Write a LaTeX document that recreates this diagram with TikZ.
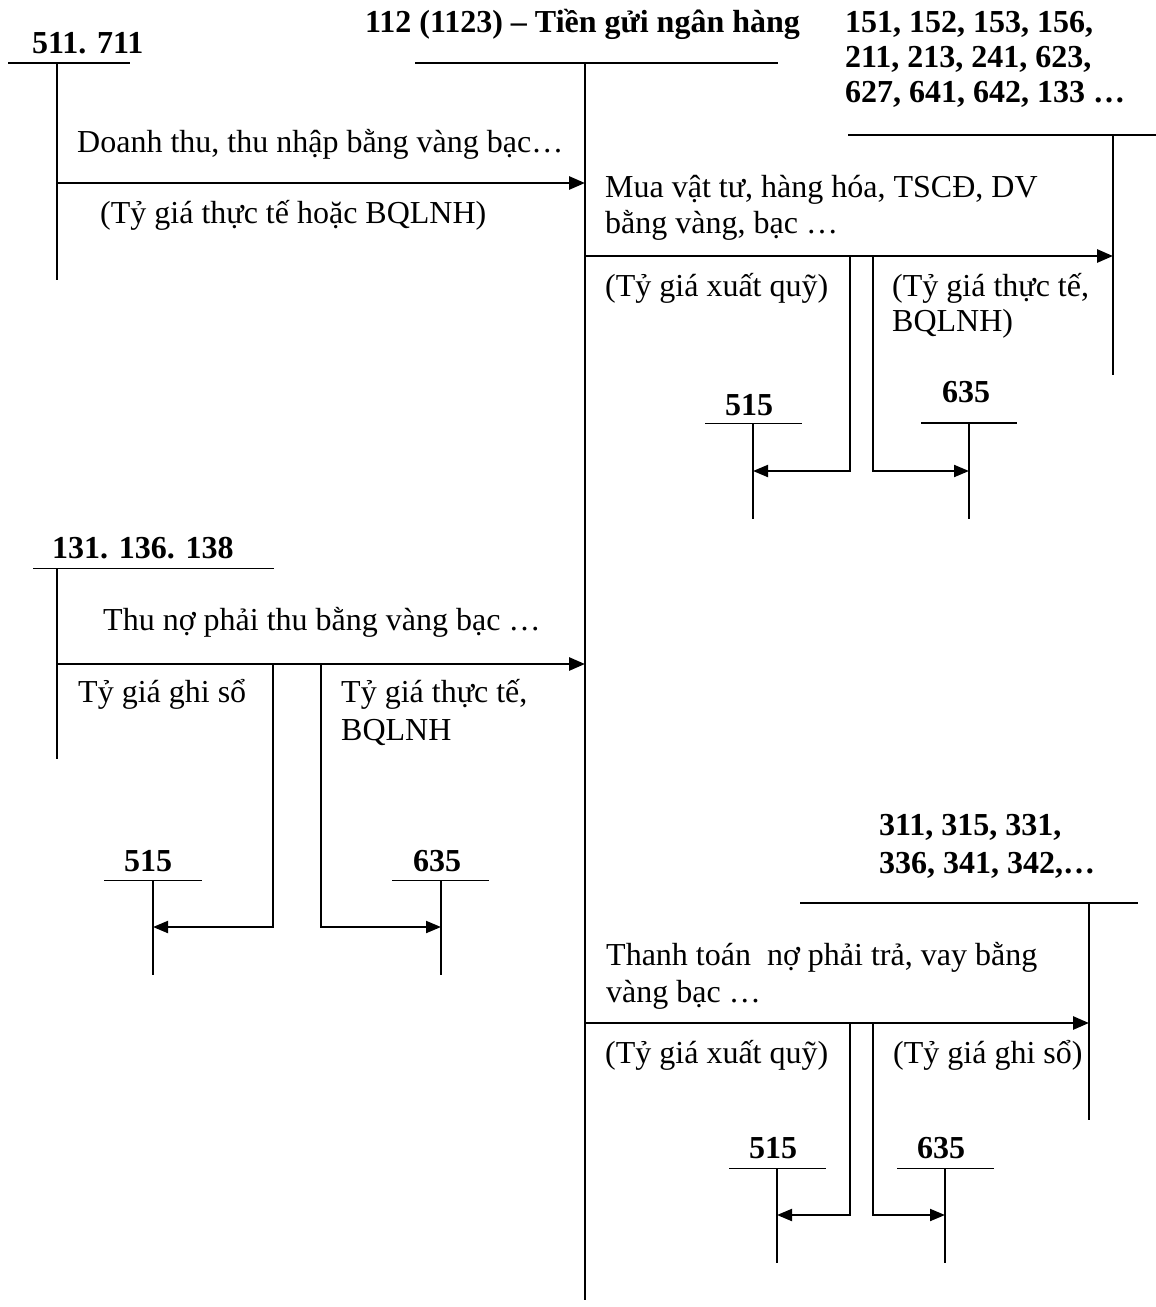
\documentclass[tikz,border=0pt]{standalone}
\usepackage{fontspec}
\setmainfont{Liberation Serif}
\usetikzlibrary{positioning,arrows.meta,calc}

\begin{document}
\begin{tikzpicture}[
    x=1pt, y=-1pt,
    every node/.style={inner sep=0pt, anchor=base west, align=left,
                       font=\fontsize{32}{36}\selectfont},
    acct/.style={font=\fontsize{32}{36}\selectfont\bfseries},
    tline/.style={line width=2pt},
    hairline/.style={line width=1pt},
    flow/.style={line width=2.8pt, -{Triangle[length=16pt,width=13pt]}},
    branch/.style={line width=2pt, -{Triangle[length=15pt,width=12pt]}}
  ]
  \useasboundingbox (0,0) rectangle (1156,1307);

  % Account titles (multi-line ones sit on their last baseline)
  \node[acct] (n511) at (32,53) {511. 711};
  \node[acct] (n112) at (365,32) {112 (1123) -- Tiền gửi ngân hàng};
  \node[acct, font=\fontsize{32}{35}\selectfont\bfseries] (n151) at (845,102)
    {151, 152, 153, 156,\\211, 213, 241, 623,\\627, 641, 642, 133 \dots};
  \node[acct] (n515a) at (725,415) {515};
  \node[acct] (n635a) at (942,402) {635};
  \node[acct] (n131) at (52,558) {131. 136. 138};
  \node[acct] (n515b) at (124,871) {515};
  \node[acct] (n635b) at (413,871) {635};
  \node[acct, font=\fontsize{32}{38}\selectfont\bfseries] (n311) at (879,873)
    {311, 315, 331,\\336, 341, 342,\dots};
  \node[acct] (n515c) at (749,1158) {515};
  \node[acct] (n635c) at (917,1158) {635};

  % T-account axes
  \coordinate (t511) at (57,63);
  \coordinate (t112) at (585,63);
  \coordinate (t151) at (1113,135);
  \coordinate (t515a) at (753,423);
  \coordinate (t635a) at (969,423);
  \coordinate (t131) at (57,568);
  \coordinate (t515b) at (153,880);
  \coordinate (t635b) at (441,880);
  \coordinate (t311) at (1089,903);
  \coordinate (t515c) at (777,1168);
  \coordinate (t635c) at (945,1168);

  \draw[tline] (8,63) -- (130,63);
  \draw[tline] (t511) -- (57,280);
  \draw[tline] (415,63) -- (778,63);
  \draw[tline] (t112) -- (585,1300);
  \draw[tline] (848,135) -- (1156,135);
  \draw[tline] (t151) -- (1113,375);
  \draw[hairline] (705,423) -- (802,423);
  \draw[tline] (t515a) -- (753,519);
  \draw[tline] (921,423) -- (1017,423);
  \draw[tline] (t635a) -- (969,519);
  \draw[hairline] (33,568) -- (274,568);
  \draw[tline] (t131) -- (57,759);
  \draw[hairline] (104,880) -- (202,880);
  \draw[tline] (t515b) -- (153,975);
  \draw[hairline] (392,880) -- (489,880);
  \draw[tline] (t635b) -- (441,975);
  \draw[tline] (800,903) -- (1138,903);
  \draw[tline] (t311) -- (1089,1120);
  \draw[hairline] (729,1168) -- (826,1168);
  \draw[tline] (t515c) -- (777,1263);
  \draw[hairline] (897,1168) -- (994,1168);
  \draw[tline] (t635c) -- (945,1263);

  % Entries into 112
  \node (doanh) at (77,152) {Doanh thu, thu nhập bằng vàng bạc…};
  \draw[flow] (t511 |- 0,183) -- (t112 |- 0,183);
  \node (tg1) at (100,223) {(Tỷ giá thực tế hoặc BQLNH)};

  \node (thuno) at (103,630) {Thu nợ phải thu bằng vàng bạc …};
  \draw[flow] (t131 |- 0,664) -- (t112 |- 0,664);
  \node (gs1) at (78,702) {Tỷ giá ghi sổ};
  \node[font=\fontsize{32}{38}\selectfont] (tt2) at (341,740) {Tỷ giá thực tế,\\BQLNH};
  \coordinate (b3) at (273,664);
  \coordinate (b4) at (321,664);
  \draw[branch] (b3) |- (t515b |- 0,927);
  \draw[branch] (b4) |- (t635b |- 0,927);

  % Payments from 112
  \node (mua) at (605,233) {Mua vật tư, hàng hóa, TSCĐ, DV\\bằng vàng, bạc …};
  \draw[flow] (t112 |- 0,256) -- (t151 |- 0,256);
  \node (xq1) at (605,296) {(Tỷ giá xuất quỹ)};
  \node[font=\fontsize{32}{35}\selectfont] (tt1) at (892,331) {(Tỷ giá thực tế,\\BQLNH)};
  \coordinate (b1) at (850,256);
  \coordinate (b2) at (873,256);
  \draw[branch] (b1) |- (t515a |- 0,471);
  \draw[branch] (b2) |- (t635a |- 0,471);

  \node[font=\fontsize{32}{37}\selectfont] (thanh) at (606,1002) {Thanh toán\ \ nợ phải trả, vay bằng\\vàng bạc …};
  \draw[flow] (t112 |- 0,1023) -- (t311 |- 0,1023);
  \node (xq2) at (605,1063) {(Tỷ giá xuất quỹ)};
  \node (gs2) at (893,1063) {(Tỷ giá ghi sổ)};
  \coordinate (b5) at (850,1023);
  \coordinate (b6) at (873,1023);
  \draw[branch] (b5) |- (t515c |- 0,1215);
  \draw[branch] (b6) |- (t635c |- 0,1215);
\end{tikzpicture}
\end{document}
